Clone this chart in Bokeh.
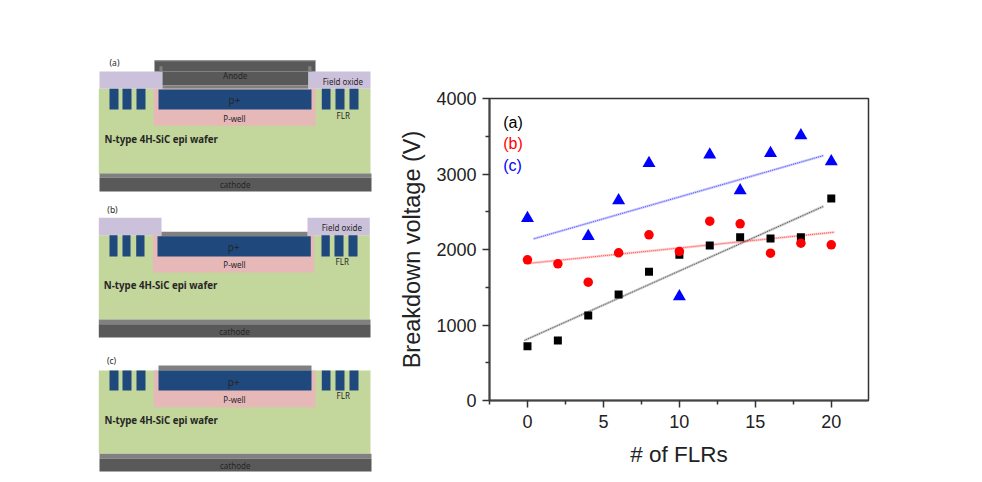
from bokeh.embed import file_html
from bokeh.resources import INLINE
from bokeh.plotting import figure
from bokeh.layouts import row
from bokeh.models import FixedTicker, Range1d
from bokeh.core.properties import value

# ---------- chart data ----------
flrs_a = [0, 2, 4, 6, 8, 10, 12, 14, 16, 18, 20]
bv_a = [720, 795, 1126, 1404, 1705, 1930, 2053, 2163, 2146, 2163, 2675]
flrs_b = [0, 2, 4, 6, 8, 10, 12, 14, 16, 18, 20]
bv_b = [1863, 1810, 1567, 1956, 2195, 1975, 2375, 2340, 1951, 2084, 2062]
flrs_c = [0, 4, 6, 8, 10, 12, 14, 16, 18, 20]
bv_c = [2415, 2176, 2650, 3143, 1377, 3254, 2781, 3276, 3510, 3165]
fit_a_x = [-0.2, 19.5]
fit_a_y = [795, 2573]
fit_b_x = [0, 20.2]
fit_b_y = [1815, 2229]
fit_c_x = [0.4, 19.5]
fit_c_y = [2141, 3245]
x_ticks = [0, 5, 10, 15, 20]
y_ticks = [0, 1000, 2000, 3000, 4000]
series_names = ["(a)", "(b)", "(c)"]
series_colors = ["#000000", "#ff0000", "#0000ff"]

# ---------- schematic palette ----------
GREEN = "#c3d69b"
OXIDE = "#ccc1da"
GRAY = "#808080"
DARK = "#595959"
NAVY = "#1f497d"
WELL = "#e6b9b8"
TXT = "#262626"
FONT = value("Noto Sans")

s = figure(width=395, height=474, x_range=Range1d(0, 395), y_range=Range1d(474, 0),
           output_backend="svg", toolbar_location=None, min_border=0)
s.axis.visible = False
s.grid.visible = False
s.outline_line_color = None
s.frame_align = False


def box(x0, x1, y0, y1, color):
    s.quad(left=[x0], right=[x1], top=[y0], bottom=[y1], fill_color=color, line_color=None)


def label(x, y, t, align="center", bold=False, size="8px", color=TXT):
    s.text([x], [y], text=[t], text_align=align, text_baseline="middle", text_font=FONT,
           text_font_size=size, text_color=color,
           text_font_style="bold" if bold else "normal")


def flr(xs, y0, y1):
    for a, b in xs:
        box(a, b, y0, y1, NAVY)


FLR_L = [(109, 118), (122, 131), (136, 145)]
FLR_R = [(321.3, 330), (335, 344), (349, 358)]

# panel (a)
box(98.3, 370, 88.3, 173.3, GREEN)
box(99, 371, 173, 177.3, GRAY)
box(99, 371, 177.3, 191, DARK)
box(99, 162, 71, 88.3, OXIDE)
box(307.7, 370, 71, 88.3, OXIDE)
box(154, 315, 60, 71, DARK)
box(162, 307.7, 71, 85, DARK)
box(154, 315, 60, 61, GRAY)
box(159, 162, 65.7, 71, GRAY)
box(307.7, 311, 65.7, 71, GRAY)
box(162, 307.7, 85, 88.3, GRAY)
box(153.3, 315, 88.3, 125.3, WELL)
box(158, 311, 89, 109, NAVY)
flr(FLR_L, 88.3, 109)
flr(FLR_R, 88.3, 109)
label(114, 62.3, "(a)", size="8.5px")
label(234.7, 75.3, "Anode")
label(342.3, 80.7, "Field oxide")
label(234, 99.3, "p+", size="10px")
label(234, 118, "P-well")
label(342.7, 114.7, "FLR")
label(104, 139, "N-type 4H-SiC epi wafer", align="left", bold=True, size="9.7px")
label(234.7, 184, "cathode")

# panel (b)
box(98.3, 369.3, 234.7, 319, GREEN)
box(98.3, 370, 319, 323.7, GRAY)
box(98.3, 370, 323.7, 337, DARK)
box(98.3, 161, 217.3, 234.7, OXIDE)
box(307, 369.3, 217.3, 234.7, OXIDE)
box(152.3, 313.7, 234.7, 272, WELL)
box(161, 307, 231.3, 235.7, GRAY)
box(157, 310.3, 235.7, 256, NAVY)
flr([(109, 117), (122, 130), (135.7, 144)], 234.7, 256)
flr([(321, 329.3), (334, 343), (348, 357)], 234.7, 256)
label(112, 209.3, "(b)", size="8.5px")
label(341.3, 227, "Field oxide")
label(233.3, 246.3, "p+", size="10px")
label(234, 264, "P-well")
label(341.7, 261, "FLR")
label(103.3, 285.3, "N-type 4H-SiC epi wafer", align="left", bold=True, size="9.7px")
label(234, 331, "cathode")

# panel (c)
box(98.3, 370, 370, 453.3, GREEN)
box(99, 371, 453.3, 458.3, GRAY)
box(99, 371, 458.3, 471, DARK)
box(153.3, 315, 370, 406.7, WELL)
box(158, 311, 365, 370, GRAY)
box(158, 311, 370, 390, NAVY)
flr(FLR_L, 370, 390)
flr(FLR_R, 370, 390)
label(111, 360.3, "(c)", size="8.5px")
label(233.3, 381.7, "p+", size="10px")
label(234, 398.7, "P-well")
label(342.7, 395, "FLR")
label(104, 420, "N-type 4H-SiC epi wafer", align="left", bold=True, size="9.7px")
label(234.7, 465, "cathode")

# ---------- chart ----------
p = figure(width=579, height=474, x_range=Range1d(-2.5, 22.45), y_range=Range1d(0, 4000),
           output_backend="svg", toolbar_location=None,
           min_border_left=94, min_border_right=106, min_border_top=98, min_border_bottom=74,
           x_axis_label="# of FLRs", y_axis_label="Breakdown voltage (V)")
p.frame_align = False
p.grid.visible = False
p.outline_line_color = "#333333"
p.outline_line_width = 1.5

p.xaxis.ticker = FixedTicker(ticks=x_ticks, minor_ticks=[-2.5, 2.5, 7.5, 12.5, 17.5, 22.5])
p.yaxis.ticker = FixedTicker(ticks=y_ticks, minor_ticks=[500, 1500, 2500, 3500])
for ax in (p.xaxis[0], p.yaxis[0]):
    ax.axis_line_color = "#444444"
    ax.axis_line_width = 2
    ax.major_tick_line_color = "#333333"
    ax.minor_tick_line_color = "#333333"
    ax.major_tick_line_width = 1.5
    ax.minor_tick_line_width = 1.5
    ax.major_tick_out = 7
    ax.major_tick_in = 0
    ax.minor_tick_out = 4
    ax.minor_tick_in = 0
    ax.major_label_text_font = "Liberation Sans"
    ax.major_label_text_font_size = "18px"
    ax.major_label_text_color = "#222222"
    ax.axis_label_text_font = "Liberation Sans"
    ax.axis_label_text_font_style = "normal"
    ax.axis_label_text_color = "#222222"
p.xaxis[0].axis_label_text_font_size = "22.5px"
p.yaxis[0].axis_label_text_font_size = "23.5px"
p.xaxis.major_label_standoff = 7
p.yaxis.major_label_standoff = 6
p.xaxis.axis_label_standoff = 11
p.yaxis.axis_label_standoff = 8

for fx, fy, c in zip((fit_a_x, fit_b_x, fit_c_x), (fit_a_y, fit_b_y, fit_c_y), series_colors):
    p.line(fx, fy, line_color=c, line_width=2.5, line_alpha=0.2)
    p.line(fx, fy, line_color=c, line_width=1, line_alpha=0.6, line_dash="1 1")

p.scatter(flrs_a, bv_a, marker="square", size=8, color=series_colors[0], line_color=None)
p.scatter(flrs_b, bv_b, marker="circle", size=9.5, color=series_colors[1], line_color=None)
p.scatter(flrs_c, bv_c, marker="triangle", size=13, color=series_colors[2], line_color=None)

for name, c, y in zip(series_names, series_colors, [3682, 3404, 3112]):
    p.text([-1.6], [y], text=[name], text_color=c, text_font=value("Liberation Sans"),
           text_font_size="16px", text_baseline="middle", text_align="left")

open("out.html", "w").write(file_html(row(s, p, spacing=0), INLINE))
